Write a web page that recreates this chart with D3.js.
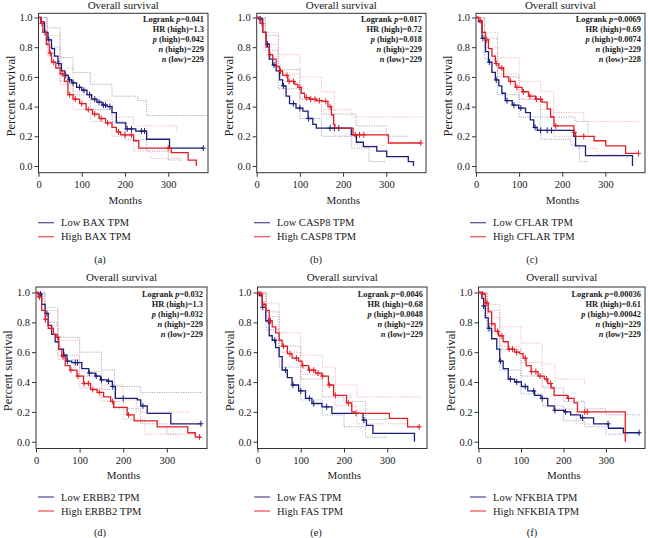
<!DOCTYPE html>
<html><head><meta charset="utf-8">
<script src="https://cdn.jsdelivr.net/npm/d3@7"></script>
<style>
body{margin:0;background:#fff}
svg{display:block}
text{font-family:"Liberation Serif","Times New Roman",serif;fill:#1a1a1a}
</style>
</head><body>
<svg id="chart" width="648" height="538"></svg>
<script>
// ---------------- DATA ----------------
const genes = ["BAX","CASP8","CFLAR","ERBB2","FAS","NFKBIA"];
const tags = ["(a)","(b)","(c)","(d)","(e)","(f)"];
const logrankP = ["0.041","0.017","0.0069","0.032","0.0046","0.00036"];
const hrHigh = ["1.3","0.72","0.69","1.3","0.68","0.61"];
const pHigh = ["0.042","0.018","0.0074","0.032","0.0048","0.00042"];
const nHigh = [229,229,229,229,229,229];
const nLow = [229,229,228,229,229,229];
const xTicks = [0,100,200,300];
const yTicks = [0,0.2,0.4,0.6,0.8,1.0];

// Kaplan-Meier step points [months, survival]
const lowBAX = [[0,1],[6,0.97],[14,0.9],[22,0.85],[30,0.79],[37,0.74],[45,0.69],[53,0.64],[61,0.61],[69,0.58],[77,0.56],[88,0.53],[100,0.51],[112,0.48],[123,0.45],[135,0.43],[147,0.41],[159,0.40],[170,0.36],[180,0.29],[202,0.25],[225,0.235],[250,0.18],[303,0.12],[381,0.12]];
const highBAX = [[0,1],[5,0.96],[10,0.9],[18,0.82],[25,0.76],[30,0.7],[40,0.66],[50,0.62],[60,0.57],[68,0.48],[80,0.45],[95,0.42],[110,0.38],[125,0.35],[140,0.32],[155,0.29],[170,0.26],[180,0.23],[190,0.21],[220,0.17],[232,0.12],[307,0.09],[346,0.04],[365,0]];
const lowCASP8 = [[0,1],[6,0.99],[14,0.9],[22,0.82],[29,0.72],[37,0.68],[45,0.64],[53,0.58],[60,0.54],[68,0.47],[76,0.42],[91,0.39],[107,0.37],[119,0.32],[130,0.28],[138,0.255],[219,0.21],[231,0.16],[247,0.13],[278,0.10],[301,0.063],[351,0.03],[363,0]];
const highCASP8 = [[0,1],[8,0.96],[14,0.9],[22,0.8],[29,0.75],[37,0.72],[45,0.67],[53,0.64],[60,0.61],[72,0.57],[88,0.55],[95,0.53],[103,0.49],[111,0.46],[122,0.45],[138,0.44],[153,0.435],[165,0.40],[173,0.345],[178,0.28],[181,0.255],[223,0.21],[305,0.155],[380,0.155]];
const lowCFLAR = [[0,1],[6,0.97],[14,0.86],[22,0.77],[29,0.70],[37,0.63],[45,0.58],[53,0.54],[60,0.49],[68,0.44],[84,0.41],[99,0.39],[115,0.36],[126,0.31],[134,0.26],[142,0.24],[227,0.2],[231,0.136],[254,0.07],[363,0]];
const highCFLAR = [[0,1],[6,0.98],[14,0.9],[22,0.85],[29,0.79],[37,0.74],[45,0.69],[53,0.66],[64,0.6],[76,0.57],[91,0.53],[107,0.50],[122,0.47],[138,0.45],[153,0.43],[165,0.385],[173,0.33],[181,0.27],[227,0.226],[231,0.2],[274,0.17],[301,0.136],[347,0.085],[378,0.085]];
const lowERBB2 = [[0,1],[5,0.99],[13,0.92],[21,0.86],[28,0.78],[36,0.72],[44,0.67],[52,0.62],[63,0.58],[71,0.54],[82,0.53],[105,0.49],[121,0.46],[136,0.44],[148,0.415],[163,0.405],[175,0.37],[182,0.29],[232,0.28],[240,0.24],[255,0.19],[309,0.12],[378,0.12]];
const highERBB2 = [[0,1],[5,0.97],[13,0.88],[21,0.82],[28,0.76],[40,0.72],[48,0.70],[52,0.62],[59,0.57],[67,0.51],[78,0.48],[94,0.44],[109,0.39],[125,0.35],[140,0.33],[155,0.30],[171,0.27],[178,0.23],[209,0.18],[225,0.14],[278,0.10],[348,0.06],[365,0.03],[378,0.03]];
const lowFAS = [[0,1],[4,0.98],[11,0.9],[19,0.81],[27,0.71],[34,0.68],[42,0.63],[50,0.57],[57,0.48],[69,0.43],[80,0.38],[95,0.34],[111,0.29],[126,0.256],[149,0.234],[172,0.19],[244,0.145],[252,0.11],[267,0.056],[363,0]];
const highFAS = [[0,1],[4,0.99],[11,0.92],[19,0.88],[27,0.81],[34,0.77],[42,0.73],[50,0.68],[57,0.64],[69,0.59],[80,0.56],[95,0.54],[103,0.51],[118,0.48],[134,0.46],[149,0.44],[164,0.38],[176,0.31],[206,0.26],[218,0.2],[225,0.19],[305,0.156],[347,0.1],[374,0.1]];
const lowNFKBIA = [[0,1],[8,0.96],[12,0.91],[16,0.83],[23,0.76],[31,0.69],[43,0.62],[50,0.54],[58,0.49],[70,0.42],[85,0.40],[101,0.37],[116,0.34],[132,0.31],[147,0.29],[163,0.24],[178,0.21],[202,0.2],[217,0.18],[240,0.16],[271,0.12],[306,0.09],[341,0.06],[380,0.06]];
const highNFKBIA = [[0,1],[8,0.99],[16,0.93],[23,0.87],[31,0.79],[39,0.74],[47,0.71],[58,0.67],[70,0.62],[85,0.6],[97,0.59],[105,0.56],[112,0.51],[124,0.47],[140,0.44],[155,0.42],[163,0.39],[171,0.36],[178,0.31],[209,0.29],[225,0.26],[233,0.2],[345,0.2],[345.5,0]];

// censoring times (months)
const lowBAXCens = [15,24,47,63,72,80,95,105,118,130,140,150,155,165,205,215,238,245,381];
const highBAXCens = [8,27,35,55,72,85,100,115,130,145,160,185,200,215,300];
const lowCASP8Cens = [8,25,40,62,85,100,120,170,180,190];
const highCASP8Cens = [12,31,55,70,75,85,100,115,125,135,145,160,170,228,238,248,380];
const lowCFLARCens = [16,31,47,72,88,104,137,150,165,175];
const highCFLARCens = [10,25,47,60,80,95,110,125,140,150,185,228,250,377];
const lowERBB2Cens = [10,25,64,72,90,95,122,138,150,166,176,200,245,378];
const highERBB2Cens = [8,22,35,50,62,80,96,110,120,130,145,175,212,375];
const lowFASCens = [12,25,40,65,82,100,120,130,160,246];
const highFASCens = [8,15,30,60,75,90,105,120,130,140,150,166,180,210,228,374];
const lowNFKBIACens = [12,25,52,75,90,110,130,150,180,205,245,305,378];
const highNFKBIACens = [10,17,20,31,45,55,72,80,90,110,125,135,145,160,170,212,250,256];

// 95% confidence bounds [months, survival]
const lowBAXUp = [[0,1],[20,0.93],[50,0.73],[80,0.63],[120,0.55],[170,0.47],[230,0.44],[250,0.34],[392,0.34]];
const lowBAXLo = [[0,1],[20,0.8],[50,0.57],[80,0.48],[120,0.38],[170,0.3],[200,0.18],[250,0.1],[300,0.04],[330,0.04]];
const highBAXUp = [[0,1],[20,0.88],[50,0.66],[80,0.5],[120,0.44],[170,0.33],[220,0.27],[320,0.22]];
const highBAXLo = [[0,1],[20,0.74],[50,0.55],[80,0.38],[120,0.3],[170,0.2],[220,0.1],[260,0.05],[330,0.03]];
const lowCASP8Up = [[0,1],[20,0.88],[50,0.65],[100,0.45],[150,0.35],[230,0.27],[300,0.2],[350,0.2]];
const lowCASP8Lo = [[0,1],[20,0.78],[50,0.52],[100,0.32],[150,0.2],[220,0.12],[260,0.03],[300,0.03]];
const highCASP8Up = [[0,1],[20,0.9],[50,0.75],[100,0.6],[150,0.5],[180,0.38],[220,0.33],[385,0.33]];
const highCASP8Lo = [[0,1],[20,0.82],[50,0.62],[100,0.45],[150,0.38],[180,0.2],[230,0.14],[300,0.08]];
const lowCFLARUp = [[0,1],[20,0.86],[50,0.6],[100,0.45],[150,0.33],[230,0.3],[260,0.2],[280,0.2]];
const lowCFLARLo = [[0,1],[20,0.72],[50,0.48],[100,0.33],[150,0.18],[220,0.14],[240,0.03],[260,0.03]];
const highCFLARUp = [[0,1],[20,0.9],[50,0.73],[100,0.57],[150,0.5],[180,0.36],[250,0.3],[380,0.3]];
const highCFLARLo = [[0,1],[20,0.8],[50,0.62],[100,0.45],[150,0.38],[180,0.2],[230,0.12],[280,0.08],[350,0.05]];
const lowERBB2Up = [[0,1],[20,0.9],[50,0.7],[100,0.6],[150,0.48],[180,0.37],[240,0.33],[380,0.33]];
const lowERBB2Lo = [[0,1],[20,0.8],[50,0.58],[100,0.44],[150,0.35],[180,0.22],[240,0.12],[300,0.05],[330,0.05]];
const highERBB2Up = [[0,1],[20,0.88],[50,0.68],[100,0.47],[150,0.38],[200,0.28],[230,0.2],[350,0.2]];
const highERBB2Lo = [[0,1],[20,0.78],[50,0.55],[100,0.36],[150,0.27],[200,0.15],[250,0.05],[370,0.03]];
const lowFASUp = [[0,1],[20,0.87],[50,0.64],[100,0.42],[150,0.3],[200,0.27],[250,0.15],[300,0.15]];
const lowFASLo = [[0,1],[20,0.75],[50,0.5],[100,0.28],[150,0.18],[200,0.1],[250,0.03],[300,0.03]];
const highFASUp = [[0,1],[20,0.93],[50,0.73],[100,0.58],[150,0.5],[180,0.38],[230,0.3],[380,0.3]];
const highFASLo = [[0,1],[20,0.84],[50,0.6],[100,0.45],[150,0.38],[180,0.24],[230,0.12],[350,0.1]];
const lowNFKBIAUp = [[0,1],[20,0.88],[50,0.62],[100,0.44],[150,0.36],[200,0.27],[250,0.22],[300,0.18],[380,0.17]];
const lowNFKBIALo = [[0,1],[20,0.74],[50,0.48],[100,0.32],[150,0.24],[200,0.14],[250,0.1],[300,0.05],[350,0.03]];
const highNFKBIAUp = [[0,1],[20,0.92],[50,0.77],[100,0.66],[150,0.52],[180,0.42],[250,0.38]];
const highNFKBIALo = [[0,1],[20,0.83],[50,0.64],[100,0.53],[150,0.37],[180,0.22],[230,0.12],[260,0.1]];

const lowCurves = [lowBAX,lowCASP8,lowCFLAR,lowERBB2,lowFAS,lowNFKBIA];
const highCurves = [highBAX,highCASP8,highCFLAR,highERBB2,highFAS,highNFKBIA];
const lowCens = [lowBAXCens,lowCASP8Cens,lowCFLARCens,lowERBB2Cens,lowFASCens,lowNFKBIACens];
const highCens = [highBAXCens,highCASP8Cens,highCFLARCens,highERBB2Cens,highFASCens,highNFKBIACens];
const lowCI = [[lowBAXUp,lowBAXLo],[lowCASP8Up,lowCASP8Lo],[lowCFLARUp,lowCFLARLo],[lowERBB2Up,lowERBB2Lo],[lowFASUp,lowFASLo],[lowNFKBIAUp,lowNFKBIALo]];
const highCI = [[highBAXUp,highBAXLo],[highCASP8Up,highCASP8Lo],[highCFLARUp,highCFLARLo],[highERBB2Up,highERBB2Lo],[highFASUp,highFASLo],[highNFKBIAUp,highNFKBIALo]];

// ---------------- LAYOUT ----------------
const axisX = [38.5,256.7,476,36,257.5,478.5];
const boxR = [208,426,645,207,427,645];
const rows = [
  {top:13.3, bottom:172.7, y1:17.5, y0:166, title:9, months:204, leg:222.7, tag:262.5},
  {top:287, bottom:448.5, y1:292.5, y0:441.7, title:281, months:479, leg:497, tag:535.5}
];
const LOW = "#1b1f7a", HIGH = "#e41e26";
const LOWCI = "#8a8fb5", HIGHCI = "#f2a0a3";

const svg = d3.select("#chart");
const stepLine = (x,y) => d3.line().x(d=>x(d[0])).y(d=>y(d[1])).curve(d3.curveStepAfter);
function survAt(curve,t){let s=curve[0][1];for(const p of curve){if(p[0]<=t)s=p[1];else break;}return s;}

genes.forEach((gene,i)=>{
  const r = rows[Math.floor(i/3)];
  const px = (i%3)*216;
  const ax = axisX[i], br = boxR[i];
  const x = d3.scaleLinear().domain([0,392]).range([ax,br]);
  const y = d3.scaleLinear().domain([0,1]).range([r.y0,r.y1]);
  const g = svg.append("g");

  // title
  g.append("text").attr("x",(ax+br)/2).attr("y",r.title).attr("text-anchor","middle")
    .attr("font-size",11).text("Overall survival");

  // box
  g.append("rect").attr("x",ax).attr("y",r.top).attr("width",br-ax).attr("height",r.bottom-r.top)
    .attr("fill","none").attr("stroke","#333").attr("stroke-width",1);

  // axes
  const ya = g.append("g").attr("transform",`translate(${ax},0)`)
    .call(d3.axisLeft(y).tickValues(yTicks).tickFormat(d3.format(".1f")).tickSize(4).tickPadding(2));
  const xa = g.append("g").attr("transform",`translate(0,${r.bottom})`)
    .call(d3.axisBottom(x).tickValues(xTicks).tickSize(4).tickPadding(4));
  [ya,xa].forEach(a=>{
    a.select(".domain").remove();
    a.selectAll("line").attr("stroke","#333");
    a.selectAll("text").attr("font-size",10.5).attr("fill","#1a1a1a")
      .style("font-family","'Liberation Serif',serif");
  });

  // y label
  g.append("text").attr("transform",`translate(${ax-24},${(r.top+r.bottom)/2+3}) rotate(-90)`)
    .attr("text-anchor","middle").attr("font-size",12.5).text("Percent survival");
  // x label
  g.append("text").attr("x",(ax+br)/2+2).attr("y",r.months).attr("text-anchor","middle")
    .attr("font-size",11).text("Months");

  const line = stepLine(x,y);
  // confidence bounds
  [[lowCI[i],LOWCI],[highCI[i],HIGHCI]].forEach(([pair,c])=>{
    pair.forEach(arr=>{
      g.append("path").attr("d",line(arr)).attr("fill","none").attr("stroke",c)
        .attr("stroke-width",0.9).attr("stroke-dasharray","1,1.4");
    });
  });
  // curves
  [[lowCurves[i],lowCens[i],LOW],[highCurves[i],highCens[i],HIGH]].forEach(([curve,cens,c])=>{
    g.append("path").attr("d",line(curve)).attr("fill","none").attr("stroke",c).attr("stroke-width",1.3);
    cens.forEach(t=>{
      const cx = x(t), cy = y(survAt(curve,t));
      g.append("line").attr("x1",cx).attr("x2",cx).attr("y1",cy-3).attr("y2",cy+3)
        .attr("stroke",c).attr("stroke-width",1);
      g.append("line").attr("x1",cx-2.5).attr("x2",cx+2.5).attr("y1",cy).attr("y2",cy)
        .attr("stroke",c).attr("stroke-width",1);
    });
  });

  // stats
  const st = g.append("g").attr("font-size",8.4).attr("font-weight","bold");
  const sx = br-4, sy = r.y1+4.5;
  const lines = [
    [["Logrank ",""],["p","i"],["="+logrankP[i],""]],
    [["HR (high)="+hrHigh[i],""]],
    [["p","i"],[" (high)="+pHigh[i],""]],
    [["n","i"],[" (high)="+nHigh[i],""]],
    [["n","i"],[" (low)="+nLow[i],""]]
  ];
  lines.forEach((parts,k)=>{
    const t = st.append("text").attr("x",sx).attr("y",sy+k*10).attr("text-anchor","end");
    parts.forEach(([s,f])=>{
      const ts = t.append("tspan").text(s);
      if(f==="i") ts.attr("font-style","italic");
    });
  });

  // legend
  [["Low "+gene+" TPM",LOW],["High "+gene+" TPM",HIGH]].forEach(([lab,c],k)=>{
    const ly = r.leg + k*14;
    g.append("line").attr("x1",px+38).attr("x2",px+54).attr("y1",ly).attr("y2",ly)
      .attr("stroke",c).attr("stroke-width",1.2).attr("opacity",0.8);
    g.append("text").attr("x",px+61).attr("y",ly+3.6).attr("font-size",10.5).text(lab);
  });

  // panel tag
  g.append("text").attr("x",px+100).attr("y",r.tag).attr("text-anchor","middle")
    .attr("font-size",10.5).text(tags[i]);
});
</script>
</body></html>
